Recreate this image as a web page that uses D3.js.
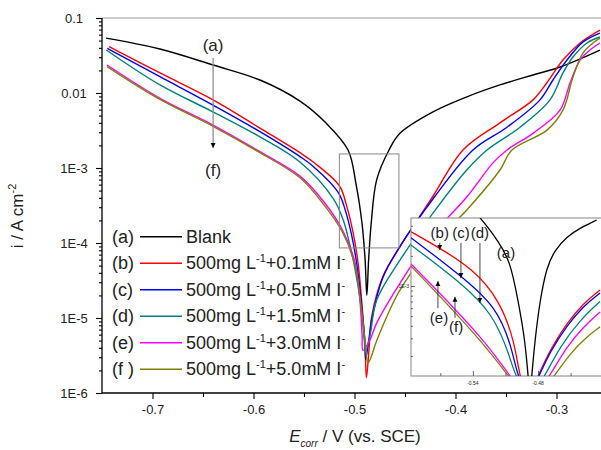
<!DOCTYPE html>
<html>
<head>
<meta charset="utf-8">
<script src="https://cdn.jsdelivr.net/npm/d3@7"></script>
<style>
body { margin: 0; background: #fff; }
text { font-family: Arial, "Liberation Sans", sans-serif; fill: #222; }
</style>
</head>
<body>
<svg id="chart" width="601" height="450"></svg>
<script>
// series labels and legend text
var seriesKeys = ["(a)", "(b)", "(c)", "(d)", "(e)", "(f )"];
var iodideConc = [null, "0.1", "0.5", "1.5", "3.0", "5.0"];
var colors = ["#000000", "#ff0000", "#0000ff", "#008080", "#ff00ff", "#808000"];

// main plot: [E (V), i (A cm-2)], cathodic then anodic branch
var blankCathodic = [[-0.746,0.054],[-0.6926,0.0386],[-0.640,0.0236],[-0.5936,0.0149],[-0.554,7.8e-3],[-0.5292,4.1e-3],[-0.5064,1.74e-3],[-0.4984,6e-4],[-0.4925,1.8e-4],[-0.4895,6e-5],[-0.4878,2e-5]];
var blankAnodic = [[-0.4878,2e-5],[-0.486,6e-5],[-0.4835,1.8e-4],[-0.478,7e-4],[-0.4658,1.74e-3],[-0.455,2.9e-3],[-0.4223,5.6e-3],[-0.3886,8.9e-3],[-0.356,0.0128],[-0.3233,0.0174],[-0.2965,0.0222],[-0.257,0.0374]];

var c01Cathodic = [[-0.743,0.0414],[-0.6926,0.0185],[-0.640,8.1e-3],[-0.5936,3.4e-3],[-0.554,1.6e-3],[-0.5408,1.2e-3],[-0.515,5.8e-4],[-0.508,3.2e-4],[-0.5015,1.4e-4],[-0.4965,5.5e-5],[-0.4929,1.7e-5],[-0.4895,4e-6],[-0.4882,1.6e-6]];
var c01Anodic = [[-0.4882,1.6e-6],[-0.4855,4e-6],[-0.483,1.04e-5],[-0.4718,3.6e-5],[-0.455,8.9e-5],[-0.4223,4.2e-4],[-0.3926,1.74e-3],[-0.356,4.0e-3],[-0.3232,8.1e-3],[-0.3097,0.0136],[-0.2936,0.0275],[-0.2767,0.0464],[-0.257,0.069]];

var c05Cathodic = [[-0.7448,0.0394],[-0.6926,0.0165],[-0.6401,6.9e-3],[-0.5936,3.05e-3],[-0.554,1.42e-3],[-0.5408,1.05e-3],[-0.516,4.7e-4],[-0.509,2.7e-4],[-0.503,1.3e-4],[-0.4975,5e-5],[-0.4935,1.7e-5],[-0.4898,5e-6],[-0.4889,2.8e-6]];
var c05Anodic = [[-0.4889,2.8e-6],[-0.4855,5.5e-6],[-0.4827,1.0e-5],[-0.4718,3.5e-5],[-0.455,9e-5],[-0.4203,4.2e-4],[-0.3827,1.74e-3],[-0.349,3.5e-3],[-0.3163,8.1e-3],[-0.3035,0.0149],[-0.2896,0.0275],[-0.2737,0.048],[-0.257,0.063]];

var c15Cathodic = [[-0.7458,0.0374],[-0.6926,0.0128],[-0.6401,5.6e-3],[-0.5936,2.6e-3],[-0.554,1.2e-3],[-0.521,3.9e-4],[-0.511,2e-4],[-0.5058,1.1e-4],[-0.4995,4.5e-5],[-0.494,1.6e-5],[-0.4902,5e-6],[-0.4892,3.5e-6]];
var c15Anodic = [[-0.4892,3.5e-6],[-0.4845,6e-6],[-0.478,1.74e-5],[-0.455,5.9e-5],[-0.4223,2.5e-4],[-0.3889,9.4e-4],[-0.3688,1.74e-3],[-0.3361,3.5e-3],[-0.3064,8.1e-3],[-0.2936,0.0185],[-0.2837,0.0302],[-0.2698,0.0464],[-0.257,0.0558]];

var c30Cathodic = [[-0.745,0.0236],[-0.6926,8.5e-3],[-0.6401,3.74e-3],[-0.5936,1.65e-3],[-0.554,7.8e-4],[-0.530,3.5e-4],[-0.512,1.5e-4],[-0.4995,5.5e-5],[-0.4946,1.7e-5],[-0.4925,6e-6],[-0.4916,3.7e-6]];
var c30Anodic = [[-0.4916,3.7e-6],[-0.485,5e-6],[-0.478,8.6e-6],[-0.455,2.9e-5],[-0.4223,1.3e-4],[-0.3889,4.1e-4],[-0.3629,1.17e-3],[-0.349,1.74e-3],[-0.3233,2.9e-3],[-0.2965,5.9e-3],[-0.2866,0.0136],[-0.2767,0.0275],[-0.2668,0.0374],[-0.257,0.0464]];

var c50Cathodic = [[-0.745,0.0225],[-0.6926,8.2e-3],[-0.6401,3.6e-3],[-0.5936,1.6e-3],[-0.554,7.4e-4],[-0.530,3.2e-4],[-0.512,1.4e-4],[-0.4995,5e-5],[-0.494,1.6e-5],[-0.4895,5e-6],[-0.4866,2.5e-6]];
var c50Anodic = [[-0.4866,2.5e-6],[-0.478,5e-6],[-0.4681,1.04e-5],[-0.455,2.36e-5],[-0.4223,9.5e-5],[-0.3889,2.75e-4],[-0.356,9.4e-4],[-0.3441,1.74e-3],[-0.3094,3.2e-3],[-0.2936,5.9e-3],[-0.2837,0.0163],[-0.2738,0.0341],[-0.2638,0.0464],[-0.257,0.054]];

// inset (magnified view near Ecorr)
var insetBlank = [[-0.5334,4.8e-3],[-0.5242,3.63e-3],[-0.5178,2.88e-3],[-0.5058,1.82e-3],[-0.4984,7.2e-4],[-0.492,2.9e-4],[-0.4892,1.26e-4],[-0.4874,8e-5],[-0.4858,1.26e-4],[-0.4828,2.9e-4],[-0.4782,7.2e-4],[-0.472,1.56e-3],[-0.4644,2.29e-3],[-0.4536,3.11e-3],[-0.4413,3.8e-3],[-0.426,4.57e-3]];
var insetC01 = [[-0.597,3.49e-3],[-0.5709,2.4e-3],[-0.5408,1.51e-3],[-0.515,7.2e-4],[-0.5012,2.67e-4],[-0.4973,1.27e-4],[-0.4892,7.2e-5],[-0.4798,1.27e-4],[-0.469,2.29e-4],[-0.4536,4.24e-4],[-0.4383,6.7e-4],[-0.4229,9.1e-4]];
var insetC05 = [[-0.597,3.04e-3],[-0.5519,1.29e-3],[-0.5181,6.2e-4],[-0.5043,2.47e-4],[-0.4991,1.27e-4],[-0.4892,7.6e-5],[-0.4788,1.27e-4],[-0.469,2.19e-4],[-0.4536,4e-4],[-0.4383,6.3e-4],[-0.4229,8.5e-4]];
var insetC15 = [[-0.597,2.57e-3],[-0.5519,1.1e-3],[-0.5212,5.3e-4],[-0.5058,1.96e-4],[-0.5012,1.27e-4],[-0.4874,7.2e-5],[-0.4736,1.27e-4],[-0.4598,2.47e-4],[-0.4413,4.57e-4],[-0.4229,7e-4]];
var insetC30 = [[-0.597,1.66e-3],[-0.5641,7.2e-4],[-0.5304,2.9e-4],[-0.512,1.56e-4],[-0.5058,1.27e-4],[-0.4874,6.5e-5],[-0.469,1.27e-4],[-0.4536,2.47e-4],[-0.4383,3.9e-4],[-0.4229,5.5e-4]];
var insetC50 = [[-0.597,1.58e-3],[-0.5641,6.7e-4],[-0.5304,2.67e-4],[-0.5075,1.27e-4],[-0.4865,6.5e-5],[-0.4644,1.27e-4],[-0.4506,2.12e-4],[-0.4352,3.1e-4],[-0.4229,3.9e-4]];

var xTicks = [-0.7, -0.6, -0.5, -0.4, -0.3];
var xMinorTicks = [-0.65, -0.55, -0.45, -0.35];
var yTicks = [0.1, 0.01, 1e-3, 1e-4, 1e-5, 1e-6];
var yTickLabels = ["0.1", "0.01", "1E-3", "1E-4", "1E-5", "1E-6"];
var insetXTicks = [-0.54, -0.48];
var insetXMinorTicks = [-0.57, -0.51, -0.45];
var zoomBox = {e0: -0.515, e1: -0.456, i0: 8.6e-5, i1: 1.54e-3};

var series = [
  blankCathodic.concat(blankAnodic.slice(1)),
  c01Cathodic.concat(c01Anodic.slice(1)),
  c05Cathodic.concat(c05Anodic.slice(1)),
  c15Cathodic.concat(c15Anodic.slice(1)),
  c30Cathodic.concat(c30Anodic.slice(1)),
  c50Cathodic.concat(c50Anodic.slice(1))
];
var insetSeries = [insetBlank, insetC01, insetC05, insetC15, insetC30, insetC50];

var svg = d3.select("#chart");
var pLeft = 102, pTop = 18, pBottom = 393, pRight = 607;

var x = d3.scaleLinear().domain([-0.75, -0.25]).range([pLeft, pRight]);
var y = d3.scaleLog().domain([1e-6, 0.1]).range([pBottom, pTop]);

var defs = svg.append("defs");
defs.append("clipPath").attr("id", "plotClip")
  .append("rect").attr("x", pLeft).attr("y", pTop).attr("width", pRight - pLeft).attr("height", pBottom - pTop);
defs.append("marker").attr("id", "arrow")
  .attr("viewBox", "0 0 10 10").attr("refX", 10).attr("refY", 5)
  .attr("markerWidth", 5).attr("markerHeight", 7).attr("markerUnits", "userSpaceOnUse")
  .attr("orient", "auto")
  .append("path").attr("d", "M0,0L10,5L0,10Z").attr("fill", "#000");

// minor y ticks (2..9 per decade)
var yMinor = [];
for (var k = -6; k < -1; k++) {
  for (var m = 2; m <= 9; m++) yMinor.push(m * Math.pow(10, k));
}

// top frame line
svg.append("line").attr("x1", pLeft).attr("x2", 601).attr("y1", pTop).attr("y2", pTop)
  .attr("stroke", "#999").attr("stroke-width", 1);

var line = d3.line()
  .x(function(d) { return x(d[0]); })
  .y(function(d) { return y(d[1]); })
  .curve(d3.curveCatmullRom.alpha(0.5));

var plot = svg.append("g").attr("clip-path", "url(#plotClip)");
plot.selectAll(".curve")
  .data(series)
  .enter().append("path")
  .attr("class", "curve")
  .attr("d", line)
  .attr("fill", "none")
  .attr("stroke", function(d, i) { return colors[i]; })
  .attr("stroke-width", 1.4);

// zoomed region
svg.append("rect")
  .attr("x", x(zoomBox.e0)).attr("y", y(zoomBox.i1))
  .attr("width", x(zoomBox.e1) - x(zoomBox.e0))
  .attr("height", y(zoomBox.i0) - y(zoomBox.i1))
  .attr("fill", "none").attr("stroke", "#888").attr("stroke-width", 1);

// axes
var xAxis = svg.append("g").attr("transform", "translate(0," + pBottom + ")")
  .call(d3.axisBottom(x).tickValues(xTicks).tickSize(6).tickPadding(6)
    .tickFormat(function(d) { return d.toFixed(1); }));
svg.append("g").attr("transform", "translate(0," + pBottom + ")")
  .call(d3.axisBottom(x).tickValues(xMinorTicks).tickSize(4).tickFormat(""))
  .select(".domain").remove();
var yAxis = svg.append("g").attr("transform", "translate(" + pLeft + ",0)")
  .call(d3.axisLeft(y).tickValues(yTicks).tickSize(6).tickPadding(14)
    .tickFormat(function(d, i) { return yTickLabels[i]; }));
yAxis.selectAll(".tick text").attr("text-anchor", "middle").attr("x", -28);
svg.append("g").attr("transform", "translate(" + pLeft + ",0)")
  .call(d3.axisLeft(y).tickValues(yMinor).tickSize(3).tickFormat(""))
  .select(".domain").remove();

svg.selectAll(".tick text").attr("font-size", 13).attr("font-family", "Arial, 'Liberation Sans', sans-serif").attr("fill", "#222");
svg.selectAll(".domain").attr("stroke", "#000").attr("stroke-width", 1.3);
svg.selectAll(".tick line").attr("stroke", "#000").attr("stroke-width", 1.1);
xAxis.select(".domain").attr("d", "M" + pLeft + ",0H" + pRight);
yAxis.select(".domain").attr("d", "M0," + pTop + "V" + pBottom);

// axis titles
var xt = svg.append("text").attr("x", 355).attr("y", 442).attr("text-anchor", "middle").attr("font-size", 17);
xt.append("tspan").attr("font-style", "italic").text("E");
xt.append("tspan").attr("font-style", "italic").attr("font-size", 10).attr("dy", 5).text("corr");
xt.append("tspan").attr("dy", -5).text(" / V (vs. SCE)");

var yt = svg.append("text").attr("transform", "translate(23,216) rotate(-90)")
  .attr("text-anchor", "middle").attr("font-size", 17);
yt.append("tspan").text("i / A cm");
yt.append("tspan").attr("font-size", 11).attr("dy", -7).text("-2");

// (a) -> (f) arrow
svg.append("text").attr("x", x(-0.64)).attr("y", y(0.0436) + 6)
  .attr("text-anchor", "middle").attr("font-size", 17).text("(a)");
svg.append("line").attr("x1", x(-0.64)).attr("x2", x(-0.64))
  .attr("y1", y(0.0293)).attr("y2", y(1.85e-3))
  .attr("stroke", "#888").attr("stroke-width", 1.2).attr("marker-end", "url(#arrow)");
svg.append("text").attr("x", x(-0.64)).attr("y", y(9.4e-4) + 6)
  .attr("text-anchor", "middle").attr("font-size", 17).text("(f)");

// legend
var legend = svg.append("g");
seriesKeys.forEach(function(key, i) {
  var cy = 236.7 + i * 26.5;
  legend.append("text").attr("x", 112).attr("y", cy + 6).attr("font-size", 18).text(key);
  legend.append("line").attr("x1", 140).attr("x2", 182).attr("y1", cy).attr("y2", cy)
    .attr("stroke", colors[i]).attr("stroke-width", 1.5);
  var t = legend.append("text").attr("x", 186).attr("y", cy + 6).attr("font-size", 18);
  if (iodideConc[i] === null) {
    t.text("Blank");
  } else {
    t.append("tspan").text("500mg L");
    t.append("tspan").attr("font-size", 11).attr("dy", -7).text("-1");
    t.append("tspan").attr("dy", 7).text("+" + iodideConc[i] + "mM I");
    t.append("tspan").attr("font-size", 11).attr("dy", -7).text("-");
  }
});

// inset
var inLeft = 411, inTop = 218, inBottom = 376, inRight = 603;
var xi = d3.scaleLinear().domain([-0.597, -0.422]).range([inLeft, 601]);
var yi = d3.scaleLog().domain([Math.pow(10, -3.9), Math.pow(10, -2.32)]).range([inBottom, inTop]);

defs.append("clipPath").attr("id", "insetClip")
  .append("rect").attr("x", inLeft).attr("y", inTop).attr("width", inRight - inLeft).attr("height", inBottom - inTop);

var inset = svg.append("g");
inset.append("rect").attr("x", inLeft).attr("y", inTop).attr("width", inRight - inLeft).attr("height", inBottom - inTop)
  .attr("fill", "#fff").attr("stroke", "#999").attr("stroke-width", 1.2);

var insetLine = d3.line()
  .x(function(d) { return xi(d[0]); })
  .y(function(d) { return yi(d[1]); })
  .curve(d3.curveBasis);

inset.append("g").attr("clip-path", "url(#insetClip)")
  .selectAll("path").data(insetSeries).enter().append("path")
  .attr("d", insetLine)
  .attr("fill", "none")
  .attr("stroke", function(d, i) { return colors[i]; })
  .attr("stroke-width", 1.3);

// inset ticks (inward)
inset.append("g").attr("transform", "translate(0," + inBottom + ")")
  .call(d3.axisTop(xi).tickValues(insetXTicks).tickSize(5).tickFormat(""))
  .select(".domain").remove();
inset.append("g").attr("transform", "translate(0," + inBottom + ")")
  .call(d3.axisTop(xi).tickValues(insetXMinorTicks).tickSize(3).tickFormat(""))
  .select(".domain").remove();
insetXTicks.forEach(function(v) {
  inset.append("text").attr("x", xi(v)).attr("y", inBottom + 9)
    .attr("text-anchor", "middle").attr("font-size", 5).attr("fill", "#555").text(v.toFixed(2));
});
var yiMinor = [];
for (var kk = -4; kk < -2; kk++) {
  for (var mm = 2; mm <= 9; mm++) {
    var v = mm * Math.pow(10, kk);
    if (v > yi.domain()[0] && v < yi.domain()[1]) yiMinor.push(v);
  }
}
inset.append("g").attr("transform", "translate(" + inLeft + ",0)")
  .call(d3.axisRight(yi).tickValues(yiMinor).tickSize(2).tickFormat(""))
  .select(".domain").remove();
inset.append("g").attr("transform", "translate(" + inLeft + ",0)")
  .call(d3.axisRight(yi).tickValues([1e-3]).tickSize(4).tickFormat(""))
  .select(".domain").remove();
inset.append("text").attr("x", inLeft - 2).attr("y", yi(1e-3) + 2)
  .attr("text-anchor", "end").attr("font-size", 5).attr("fill", "#555").text("1E-3");
inset.selectAll(".tick line").attr("stroke", "#444").attr("stroke-width", 0.8);

// inset labels with arrows
var insetNotes = [
  {t: "(b)", tx: -0.5705, ty: 0.0034, ax: -0.5705, a0: 0.0027, a1: 0.0023},
  {t: "(c)", tx: -0.551, ty: 0.0034, ax: -0.551, a0: 0.0027, a1: 0.0012},
  {t: "(d)", tx: -0.5335, ty: 0.0034, ax: -0.5335, a0: 0.0027, a1: 0.00068},
  {t: "(e)", tx: -0.5712, ty: 0.00048, ax: -0.5722, a0: 0.0006, a1: 0.00112},
  {t: "(f)", tx: -0.5555, ty: 0.00039, ax: -0.5565, a0: 0.00048, a1: 0.00078}
];
insetNotes.forEach(function(n) {
  inset.append("line").attr("x1", xi(n.ax)).attr("x2", xi(n.ax))
    .attr("y1", yi(n.a0)).attr("y2", yi(n.a1))
    .attr("stroke", "#333").attr("stroke-width", 0.9).attr("marker-end", "url(#arrow)");
  inset.append("text").attr("x", xi(n.tx)).attr("y", yi(n.ty) + 5)
    .attr("text-anchor", "middle").attr("font-size", 15).text(n.t);
});
inset.append("text").attr("x", xi(-0.5095)).attr("y", yi(0.00214) + 5)
  .attr("text-anchor", "middle").attr("font-size", 15).text("(a)");
</script>
</body>
</html>
